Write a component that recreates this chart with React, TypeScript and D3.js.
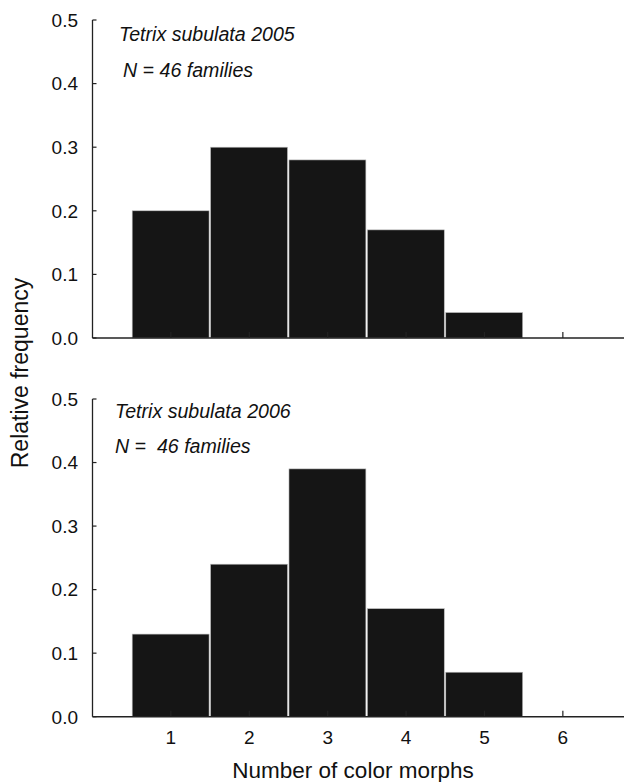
import React from "react";
import * as d3 from "d3";

const categories = [1, 2, 3, 4, 5];
const xTicks = [1, 2, 3, 4, 5, 6];
const yTicks = [0, 0.1, 0.2, 0.3, 0.4, 0.5];
const values2005 = [0.2, 0.3, 0.28, 0.17, 0.04];
const values2006 = [0.13, 0.24, 0.39, 0.17, 0.07];

const W = 624;
const H = 782;
const FONT = "'Liberation Sans', Arial, Helvetica, sans-serif";
const BAR = "#151515";
const AXIS = "#222";

const x = d3.scaleLinear().domain([0, 6.78]).range([92.5, 624]);

type PanelProps = {
  values: number[];
  top: number;
  bottom: number;
  title: string;
  nText: string;
  titleX: number;
  titleY: number;
  nX: number;
  nY: number;
  showXLabels: boolean;
};

function Panel({ values, top, bottom, title, nText, titleX, titleY, nX, nY, showXLabels }: PanelProps) {
  const y = d3.scaleLinear().domain([0, 0.5]).range([bottom, top]);
  const fmt = d3.format(".1f");
  return (
    <g>
      {categories.map((c, i) => {
        const x0 = x(c - 0.5);
        const x1 = x(c + 0.5);
        return (
          <rect
            key={c}
            x={x0 + 0.5}
            y={y(values[i])}
            width={x1 - x0 - 1.5}
            height={bottom - y(values[i])}
            fill={BAR}
            stroke="#bbb"
            strokeWidth={0.6}
          />
        );
      })}
      <line x1={x(0)} x2={x(0)} y1={y(0.5)} y2={bottom} stroke={AXIS} strokeWidth={1.3} />
      {yTicks.map((t) => (
        <g key={t}>
          <line x1={x(0)} x2={x(0) + 4} y1={y(t)} y2={y(t)} stroke={AXIS} strokeWidth={1.2} />
          <text
            x={78}
            y={y(t) + 6.8}
            textAnchor="end"
            fontFamily={FONT}
            fontSize={19}
            fill="#111"
          >
            {fmt(t)}
          </text>
        </g>
      ))}
      <line x1={x(0)} x2={W} y1={bottom} y2={bottom} stroke={AXIS} strokeWidth={1.6} />
      {xTicks.map((t) => (
        <g key={t}>
          <line x1={x(t)} x2={x(t)} y1={bottom} y2={bottom - 6} stroke={AXIS} strokeWidth={1.2} />
          {showXLabels && (
            <text
              x={x(t)}
              y={bottom + 27}
              textAnchor="middle"
              fontFamily={FONT}
              fontSize={19}
              fill="#111"
            >
              {t}
            </text>
          )}
        </g>
      ))}
      <text
        x={titleX}
        y={titleY}
        fontFamily={FONT}
        fontStyle="italic"
        fontSize={19.6}
        fill="#111"
      >
        {title}
      </text>
      <text
        x={nX}
        y={nY}
        fontFamily={FONT}
        fontStyle="italic"
        fontSize={19.6}
        fill="#111"
        style={{ whiteSpace: "pre" }}
      >
        {nText}
      </text>
    </g>
  );
}

export default function App() {
  return (
    <svg
      width={W}
      height={H}
      style={{ position: "absolute", left: 0, top: 0, background: "#fff" }}
    >
      <rect width={W} height={H} fill="#fff" />
      <Panel
        values={values2005}
        top={20}
        bottom={338}
        title="Tetrix subulata 2005"
        nText="N = 46 families"
        titleX={119}
        titleY={40.5}
        nX={123}
        nY={77}
        showXLabels={false}
      />
      <Panel
        values={values2006}
        top={399}
        bottom={716.7}
        title="Tetrix subulata 2006"
        nText="N =  46 families"
        titleX={115}
        titleY={418.3}
        nX={115}
        nY={452.5}
        showXLabels={true}
      />
      <text
        transform="translate(27.5,373) rotate(-90)"
        textAnchor="middle"
        fontFamily={FONT}
        fontSize={23}
        fill="#111"
      >
        Relative frequency
      </text>
      <text
        x={353}
        y={778}
        textAnchor="middle"
        fontFamily={FONT}
        fontSize={22.5}
        fill="#111"
      >
        Number of color morphs
      </text>
    </svg>
  );
}
